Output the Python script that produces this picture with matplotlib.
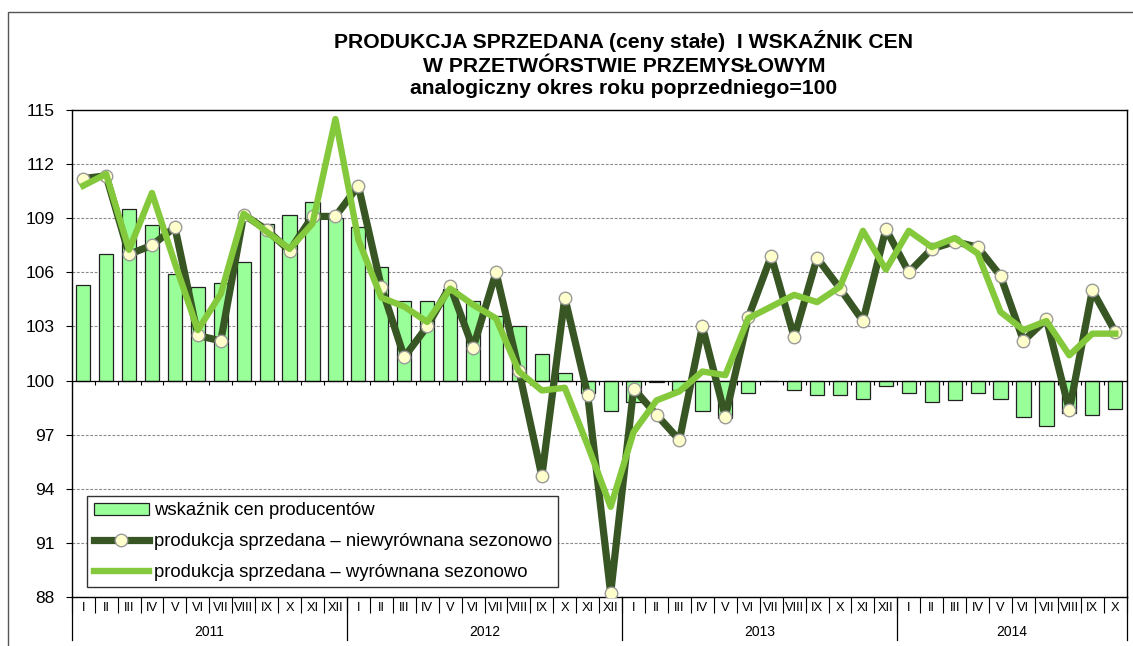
import matplotlib
matplotlib.use("Agg")
import matplotlib.pyplot as plt
import matplotlib.transforms as mtransforms
from matplotlib.patches import Rectangle, Patch
from matplotlib.lines import Line2D
import numpy as np

plt.rcParams['font.family'] = ['Liberation Sans', 'DejaVu Sans']

# ---------------- data ----------------
months = ["I", "II", "III", "IV", "V", "VI", "VII", "VIII", "IX", "X", "XI", "XII"]
years = ["2011", "2012", "2013", "2014"]
months_in_year = [12, 12, 12, 10]

price_index = [
    105.3, 107.0, 109.5, 108.6, 105.9, 105.2, 105.4, 106.6, 108.7, 109.2, 109.9, 109.0,
    108.5, 106.3, 104.4, 104.4, 105.1, 104.4, 103.6, 103.0, 101.5, 100.4, 99.3, 98.3,
    98.8, 99.9, 99.5, 98.3, 97.9, 99.3, 100.0, 99.5, 99.2, 99.2, 99.0, 99.7,
    99.3, 98.8, 98.9, 99.3, 99.0, 98.0, 97.5, 98.2, 98.1, 98.4,
]
prod_unadjusted = [
    111.2, 111.35, 107.0, 107.5, 108.5, 102.5, 102.2, 109.2, 108.35, 107.2, 109.1, 109.1,
    110.8, 105.2, 101.3, 103.0, 105.25, 101.8, 106.0, 100.55, 94.7, 104.6, 99.2, 88.2,
    99.55, 98.1, 96.7, 103.0, 98.0, 103.5, 106.9, 102.4, 106.8, 105.1, 103.3, 108.4,
    106.0, 107.3, 107.7, 107.4, 105.8, 102.2, 103.4, 98.35, 105.0, 102.7,
]
prod_adjusted = [
    110.8, 111.45, 107.25, 110.4, 106.5, 102.8, 104.8, 109.25, 108.25, 107.3, 108.7, 114.5,
    107.8, 104.6, 104.1, 103.25, 105.1, 104.2, 103.45, 100.5, 99.45, 99.6, 96.4, 93.0,
    97.15, 98.9, 99.4, 100.5, 100.3, 103.45, 104.1, 104.75, 104.35, 105.2, 108.3, 106.15,
    108.3, 107.4, 107.9, 107.05, 103.8, 102.8, 103.3, 101.4, 102.6, 102.6,
]

title_lines = ["PRODUKCJA SPRZEDANA (ceny stałe)  I WSKAŹNIK CEN",
               "W PRZETWÓRSTWIE PRZEMYSŁOWYM",
               "analogiczny okres roku poprzedniego=100"]
legend_labels = ["wskaźnik cen producentów",
                 "produkcja sprzedana – niewyrównana sezonowo",
                 "produkcja sprzedana – wyrównana sezonowo"]
yticks = [88, 91, 94, 97, 100, 103, 106, 109, 112, 115]

# ---------------- figure ----------------
W, H = 1133, 646
fig = plt.figure(figsize=(W / 100, H / 100), dpi=100)
L, R, T, B = 71.7, 1126.7, 110, 597
ax = fig.add_axes([L / W, 1 - B / H, (R - L) / W, (B - T) / H])

n = len(price_index)
x = np.arange(n)
month_labels = [months[i] for y_n in months_in_year for i in range(y_n)]

BAR_C = "#99FF99"
DARK_C = "#375623"
LIGHT_C = "#84C83C"

# grid
for g in yticks:
    if g not in (88, 100, 115):
        ax.axhline(g, color="#8a8a8a", lw=0.8, ls=(0, (2.5, 1.5)), zorder=0)

vals = np.array(price_index)
ax.bar(x, vals - 100, bottom=100, width=0.62, color=BAR_C, edgecolor="#222222",
       linewidth=0.9, zorder=2)

ax.axhline(100, color="black", lw=0.9, zorder=3)
bounds = np.arange(-0.5, n, 1.0)
ax.vlines(bounds, 100 - 0.22, 100, color="black", lw=0.8, zorder=3)

ax.plot(x, prod_unadjusted, color=DARK_C, lw=5.2, zorder=4,
        marker="o", markersize=9, markerfacecolor="#FFFFCC",
        markeredgecolor="#9a9a9a", markeredgewidth=1.0, solid_joinstyle="round")
ax.plot(x, prod_adjusted, color=LIGHT_C, lw=4.6, zorder=5, solid_joinstyle="round")

ax.set_xlim(-0.5, n - 0.5)
ax.set_ylim(88, 115)
ax.set_yticks(yticks)
ax.set_yticklabels([str(v) for v in yticks], fontsize=12.5)
ax.tick_params(axis="y", direction="out", length=4.5, width=0.8, pad=8)

ax.set_xticks(x)
ax.set_xticklabels(month_labels, fontsize=9.3)
ax.tick_params(axis="x", which="major", length=0, pad=3.5)
ax.set_xticks(bounds, minor=True)
ax.tick_params(axis="x", which="minor", direction="out", length=11.5, width=0.8)

for s in ax.spines.values():
    s.set_color("black")
    s.set_linewidth(1.0)

# year separators & labels
trans = mtransforms.blended_transform_factory(ax.transData, ax.transAxes)
start = 0
ysep = -43 / (B - T)
for yr, cnt in zip(years, months_in_year):
    ax.plot([start - 0.5, start - 0.5], [0, ysep], color="black", lw=0.9,
            transform=trans, clip_on=False)
    ax.text(start + (cnt - 1) / 2, -35 / (B - T), yr, transform=trans,
            ha="center", va="center", fontsize=10)
    start += cnt
ax.plot([n - 0.5, n - 0.5], [0, ysep], color="black", lw=0.9,
        transform=trans, clip_on=False)

# legend
handles = [
    Patch(facecolor=BAR_C, edgecolor="#222222", linewidth=0.9),
    Line2D([], [], color=DARK_C, lw=5.2, marker="o", markersize=9,
           markerfacecolor="#FFFFCC", markeredgecolor="#9a9a9a", markeredgewidth=1.0),
    Line2D([], [], color=LIGHT_C, lw=4.6),
]
leg = ax.legend(handles, legend_labels, loc="upper left",
                bbox_to_anchor=((87.3 - L) / (R - L), (B - 495.7) / (B - T)),
                borderaxespad=0, fontsize=13.3, handlelength=3.0, handletextpad=0.25,
                labelspacing=0.75, borderpad=0.35, fancybox=False, framealpha=1,
                edgecolor="#333333", handleheight=0.6)
leg.get_frame().set_linewidth(1.0)
leg.set_zorder(10)

# title
tx = 624 / W
for line, yy in zip(title_lines, [48, 71.5, 94.5]):
    fig.text(tx, 1 - yy / H, line, ha="center", va="baseline",
             fontsize=15.2, fontweight="bold")

# outer border
fig.add_artist(Rectangle((8 / W, -0.1), 1.2, (1 - 12 / H) + 0.1,
                         transform=fig.transFigure, fill=False,
                         edgecolor="#555555", lw=1.0, clip_on=False))

fig.savefig("out.png", dpi=100)
